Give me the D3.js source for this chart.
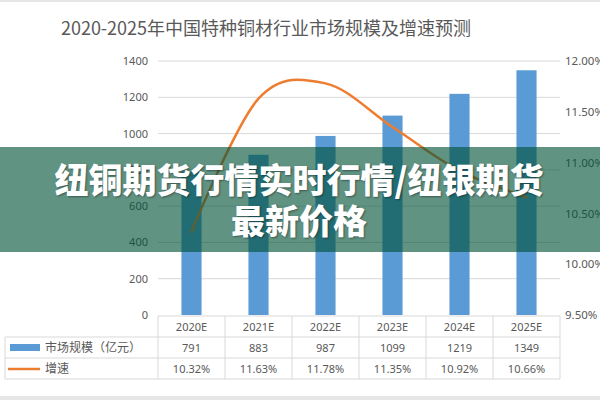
<!DOCTYPE html>
<html>
<head>
<meta charset="utf-8">
<script src="https://cdn.jsdelivr.net/npm/d3@7"></script>
<style>
  body { margin: 0; background: #fff; }
  svg { display: block; font-family: "Noto Sans CJK SC", "Noto Sans", sans-serif; }
</style>
</head>
<body>
<script>
// chart data
var years = ["2020E", "2021E", "2022E", "2023E", "2024E", "2025E"];
var marketSize = [791, 883, 987, 1099, 1219, 1349];
var growthRate = [10.32, 11.63, 11.78, 11.35, 10.92, 10.66];
var leftTicks = [0, 200, 400, 600, 800, 1000, 1200, 1400];
var rightTicks = [9.5, 10, 10.5, 11, 11.5, 12];
var seriesNames = ["市场规模（亿元）", "增速"];
var titleText = "2020-2025年中国特种铜材行业市场规模及增速预测";
var bannerLines = ["纽铜期货行情实时行情/纽银期货", "最新价格"];

var W = 600, H = 400;
var plot = {left: 158, right: 560, top: 61, bottom: 315};
var tableLeft = 5, rowH = 21;

var svg = d3.select("body").append("svg")
  .attr("width", W)
  .attr("height", H);

// frame lines top and bottom
svg.append("rect").attr("x", 0).attr("y", 0).attr("width", W).attr("height", 2).attr("fill", "#e6e6e6");
svg.append("rect").attr("x", 0).attr("y", 396).attr("width", W).attr("height", 4).attr("fill", "#e6e6e6");

// title
svg.append("text")
  .attr("x", 266)
  .attr("y", 35)
  .attr("text-anchor", "middle")
  .style("font-size", "18px")
  .attr("fill", "#595959")
  .text(titleText);

var x = d3.scaleBand().domain(years).range([plot.left, plot.right]).padding(0);
var y = d3.scaleLinear().domain([0, 1400]).range([plot.bottom, plot.top]);
var yR = d3.scaleLinear().domain([9.5, 12]).range([plot.bottom, plot.top]);

// gridlines
svg.append("g")
  .selectAll("line")
  .data(leftTicks.slice(1))
  .join("line")
  .attr("x1", plot.left).attr("x2", plot.right)
  .attr("y1", function(d){ return y(d); })
  .attr("y2", function(d){ return y(d); })
  .attr("stroke", "#d9d9d9");

// left axis
var leftAxis = svg.append("g")
  .attr("transform", "translate(" + (plot.left - 10) + ",0)")
  .call(d3.axisLeft(y).tickValues(leftTicks).tickSize(0).tickPadding(0).tickFormat(d3.format("d")));
leftAxis.select(".domain").remove();
leftAxis.selectAll("text")
  .attr("fill", "#595959")
  .style("font-size", "11px")
  .style("font-family", "\"Noto Sans\", sans-serif");

// right axis
var rightAxis = svg.append("g")
  .attr("transform", "translate(" + (plot.right + 5) + ",0)")
  .call(d3.axisRight(yR).tickValues(rightTicks).tickSize(0).tickPadding(0)
    .tickFormat(function(d){ return d.toFixed(2) + "%"; }));
rightAxis.select(".domain").remove();
rightAxis.selectAll("text")
  .attr("fill", "#595959")
  .style("font-size", "11.5px")
  .style("font-family", "\"Noto Sans\", sans-serif");

// bars
var bw = x.bandwidth() * 0.3;
svg.append("g")
  .selectAll("rect")
  .data(marketSize)
  .join("rect")
  .attr("x", function(d, i){ return x(years[i]) + (x.bandwidth() - bw) / 2; })
  .attr("y", function(d){ return y(d); })
  .attr("width", bw)
  .attr("height", function(d){ return plot.bottom - y(d); })
  .attr("fill", "#5b9bd5");

// smoothed growth line
var growthLine = d3.line()
  .x(function(d, i){ return x(years[i]) + x.bandwidth() / 2; })
  .y(function(d){ return yR(d); })
  .curve(d3.curveCardinal.tension(0));

svg.append("path")
  .datum(growthRate)
  .attr("d", growthLine)
  .attr("fill", "none")
  .attr("stroke", "#ed7d31")
  .attr("stroke-width", 2.5)
  .attr("stroke-linecap", "round");

// data table
var table = svg.append("g");
var tTop = plot.bottom + 1;
var border = "#d9d9d9";
// horizontal lines
table.append("line").attr("x1", plot.left).attr("x2", plot.right)
  .attr("y1", tTop).attr("y2", tTop).attr("stroke", border);
[1, 2, 3].forEach(function(r){
  table.append("line").attr("x1", tableLeft).attr("x2", plot.right)
    .attr("y1", tTop + r * rowH).attr("y2", tTop + r * rowH).attr("stroke", border);
});
// vertical lines
years.forEach(function(yr){
  table.append("line").attr("x1", x(yr)).attr("x2", x(yr))
    .attr("y1", tTop).attr("y2", tTop + 3 * rowH).attr("stroke", border);
});
table.append("line").attr("x1", plot.right).attr("x2", plot.right)
  .attr("y1", tTop).attr("y2", tTop + 3 * rowH).attr("stroke", border);
table.append("line").attr("x1", tableLeft).attr("x2", tableLeft)
  .attr("y1", tTop + rowH).attr("y2", tTop + 3 * rowH).attr("stroke", border);

function cellText(row, vals, fmt) {
  table.append("g")
    .selectAll("text")
    .data(vals)
    .join("text")
    .attr("x", function(d, i){ return x(years[i]) + x.bandwidth() / 2; })
    .attr("y", tTop + row * rowH + rowH / 2 + 4)
    .attr("text-anchor", "middle")
    .attr("fill", "#595959")
    .style("font-size", "11px")
    .style("font-family", "\"Noto Sans\", sans-serif")
    .text(fmt);
}
cellText(0, years, function(d){ return d; });
cellText(1, marketSize, function(d){ return d; });
cellText(2, growthRate, function(d){ return d.toFixed(2) + "%"; });

// legend keys in table
table.append("rect")
  .attr("x", 10).attr("y", tTop + rowH + 7)
  .attr("width", 30).attr("height", 7)
  .attr("fill", "#5b9bd5");
table.append("line")
  .attr("x1", 8).attr("x2", 40)
  .attr("y1", tTop + 2 * rowH + 11).attr("y2", tTop + 2 * rowH + 11)
  .attr("stroke", "#ed7d31").attr("stroke-width", 2.5);
seriesNames.forEach(function(name, i){
  table.append("text")
    .attr("x", 45)
    .attr("y", tTop + (i + 1) * rowH + rowH / 2 + 4)
    .attr("fill", "#595959")
    .style("font-size", "12px")
    .text(name);
});

// overlay banner
svg.append("rect")
  .attr("x", 0).attr("y", 147)
  .attr("width", W).attr("height", 105)
  .attr("fill", "rgb(0,80,55)")
  .attr("fill-opacity", 0.62);

svg.append("g")
  .selectAll("text")
  .data(bannerLines)
  .join("text")
  .attr("x", 299)
  .attr("y", function(d, i){ return 193 + i * 41; })
  .attr("text-anchor", "middle")
  .attr("fill", "#fff")
  .style("font-size", "34px")
  .style("font-weight", "900")
  .style("text-shadow", "1px 1px 2px rgba(0,0,0,0.4)")
  .text(function(d){ return d; });
</script>
</body>
</html>
